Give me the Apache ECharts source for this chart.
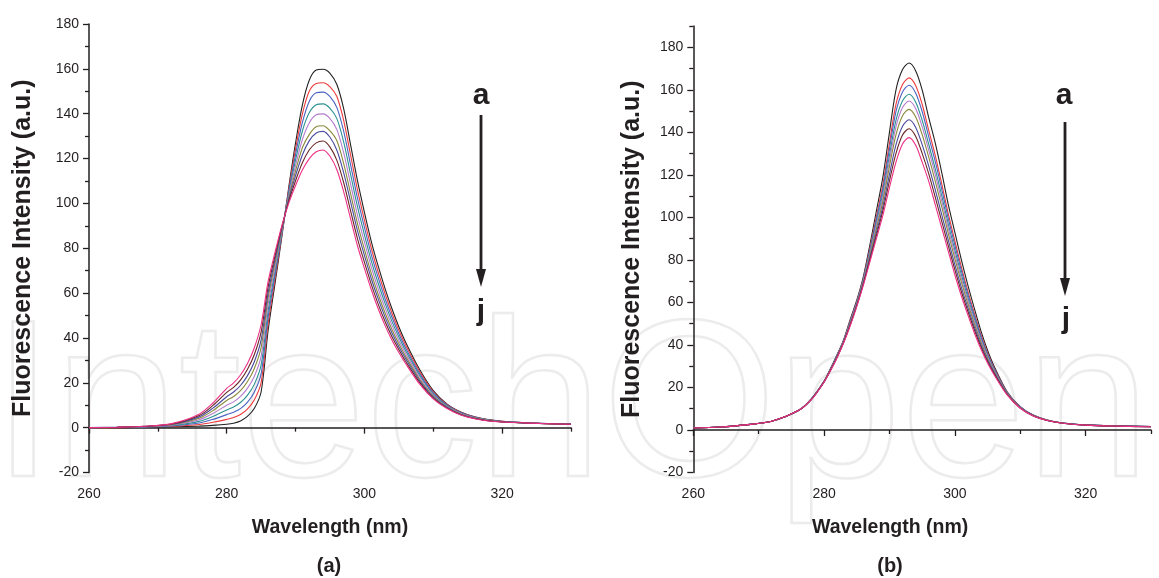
<!DOCTYPE html>
<html><head><meta charset="utf-8">
<script src="https://cdn.jsdelivr.net/npm/echarts@6/dist/echarts.min.js"></script>
<style>html,body{margin:0;padding:0;background:#fff}#c{width:1159px;height:578px}</style>
</head><body><div id="c"></div>
<script>
// ---- data ----
const wavelengths = [260,264,268,272,276,278,280,281,282,283,284,285,286,287,288,289,290,291,292,293,294,295,296,297,298,299,300,301,302,303,304,305,306,308,310,312,314,316,318,320,324,330];

// panel (a)
const a_a = [0,0,0.2,0.4,0.7,1.0,1.5,2,3,5,8.5,16,43,64,85,107,127,144,155,159.5,159.8,158,153,142,126,110,96,83,72,62,53,45,38,26,16.5,10.5,7,4.8,3.6,2.8,2.1,1.6];
const a_b = [0,0,0.3,0.6,1.4,2.4,3.7,4.5,5.9,8.3,12.3,20.2,46.1,66,85.7,106,124.3,140,150.1,153.5,153.8,152,147.7,136.8,121.4,105.9,92.5,80,69.3,59.7,51,43.4,36.7,25.1,16,10.2,6.8,4.7,3.5,2.8,2.1,1.6];
const a_c = [0,0.1,0.3,0.8,2.1,3.7,5.8,6.9,8.5,11.3,15.8,24.1,48.9,67.8,86.4,105.1,121.9,136.2,145.6,149.3,149.6,147.6,142.7,132,117.1,102.2,89.3,77.2,66.9,57.5,49.2,41.9,35.4,24.2,15.5,10,6.6,4.6,3.4,2.7,2.1,1.6];
const a_d = [0,0.1,0.4,1.0,2.8,5.0,7.9,9.2,11.2,14.4,19.3,28,51.8,69.6,87,104.2,119.4,132.4,140.5,144,144.4,142.4,137.8,127.2,112.8,98.4,86,74.4,64.4,55.4,47.4,40.4,34.2,23.4,15,9.7,6.4,4.5,3.4,2.7,2.1,1.6];
const a_e = [0,0.1,0.4,1.1,3.5,6.3,10,11.5,13.9,17.5,22.8,31.9,54.7,71.4,87.7,103.3,116.9,128.6,136,139.5,139.9,137.8,132.9,122.4,108.5,94.6,82.8,71.6,61.9,53.3,45.6,38.9,33,22.6,14.5,9.4,6.3,4.4,3.3,2.6,2.1,1.5];
const a_f = [0,0.1,0.5,1.3,4.2,7.6,12.1,13.9,16.5,20.5,26.3,35.8,57.5,73.2,88.3,102.4,114.5,124.9,130.8,134.2,134.6,132.3,127.9,117.6,104.2,90.9,79.5,68.8,59.5,51.1,43.8,37.4,31.7,21.7,14.1,9.2,6.1,4.3,3.2,2.6,2.0,1.5];
const a_g = [0,0.2,0.5,1.5,4.8,8.7,13.8,15.9,18.8,23.1,29.3,39.1,59.9,74.8,88.9,101.6,112.4,121.7,128,131.4,132.1,129.5,123.7,113.5,100.6,87.7,76.8,66.4,57.4,49.3,42.2,36.1,30.7,21,13.6,9,5.9,4.2,3.1,2.6,2.0,1.5];
const a_h = [0,0.2,0.6,1.6,5.4,9.9,15.7,18,21.2,25.9,32.5,42.7,62.6,76.5,89.5,100.8,110.1,118.2,123.9,127,127.8,125.1,119.2,109.1,96.6,84.2,73.8,63.9,55.1,47.3,40.5,34.8,29.5,20.2,13.2,8.7,5.8,4.1,3.1,2.5,2.0,1.5];
const a_j = [0,0.2,0.6,1.8,6,11,17.5,20,23.5,28.5,35.5,46,65,78,90,100,108,115,120,123,123.8,121,115,105,93,81,71,61.5,53,45.5,39,33.5,28.5,19.5,12.8,8.5,5.6,4,3,2.5,2,1.5];

// panel (b)
const b_a = [0.9,1.4,2.4,4.1,9.0,14.5,23,29,35.5,42.5,52,61,72,87,103,119,140,160,169.5,172.6,169,160,147,135,121,106,93,80,68,57,46.5,37.5,30,18,11,7,4.8,3.5,2.8,2.4,2.0,1.6];
const b_b = [0.9,1.4,2.4,4.1,9.0,14.4,22.9,28.8,35.2,42.2,51.4,60.4,71.2,85.4,100.3,115.4,134.8,153.2,162.5,165.6,162,153.2,141,129.2,115.8,101.6,89,76.6,65.2,54.7,44.8,36.3,29.2,17.7,10.8,6.9,4.8,3.5,2.8,2.4,2.0,1.6];
const b_c = [0.9,1.4,2.4,4.1,9.0,14.4,22.9,28.7,35.1,42.1,51.1,60.1,70.8,84.6,98.9,113.6,132.2,149.8,159,162.1,158.5,149.8,138,126.3,113.2,99.4,87,74.9,63.8,53.6,44,35.7,28.8,17.6,10.8,6.9,4.7,3.5,2.8,2.4,2.0,1.6];
const b_d = [0.9,1.4,2.4,4.1,9.0,14.3,22.8,28.6,34.9,41.9,50.7,59.7,70.3,83.6,97.3,111.4,129.1,145.7,154.8,157.9,154.3,145.7,134.4,122.8,110.1,96.8,84.6,72.9,62.1,52.2,42.9,35,28.3,17.4,10.7,6.8,4.7,3.5,2.8,2.4,2.0,1.6];
const b_e = [0.9,1.4,2.4,4.1,9.0,14.3,22.8,28.5,34.7,41.7,50.5,59.5,70,82.9,96.1,109.8,126.7,142.7,151.7,154.7,151.2,142.7,131.7,120.2,107.7,94.8,82.8,71.3,60.9,51.1,42.2,34.4,28,17.2,10.6,6.8,4.7,3.4,2.7,2.3,1.9,1.5];
const b_f = [0.9,1.4,2.4,4.1,9.0,14.2,22.7,28.4,34.6,41.6,50.1,59.1,69.5,82,94.6,107.8,123.9,138.9,147.8,150.8,147.3,138.9,128.4,117,104.9,92.4,80.6,69.5,59.3,49.9,41.2,33.8,27.5,17.1,10.5,6.8,4.7,3.4,2.7,2.3,1.9,1.5];
const b_g = [0.9,1.4,2.4,4.1,9.0,14.1,22.6,28.2,34.4,41.4,49.7,58.7,69,80.9,92.8,105.3,120.2,134.2,142.9,145.9,142.4,134.2,124.2,113,101.2,89.3,77.8,67.1,57.4,48.3,40,32.9,27,16.9,10.4,6.7,4.6,3.4,2.7,2.3,1.9,1.5];
const b_h = [0.9,1.4,2.4,4.1,9.0,14.1,22.6,28.1,34.2,41.2,49.4,58.4,68.5,80,91.4,103.2,117.1,130.1,138.7,141.7,138.2,130.1,120.6,109.5,98.1,86.6,75.4,65,55.7,46.9,39,32.2,26.5,16.7,10.3,6.6,4.6,3.4,2.7,2.3,1.9,1.5];
const b_j = [0.9,1.4,2.4,4.1,9.0,14,22.5,28,34,41,49,58,68,79,90,101,114,126,134.5,137.5,134,126,117,106,95,84,73,63,54,45.5,38,31.5,26,16.5,10.2,6.6,4.6,3.4,2.7,2.3,1.9,1.5];

const curveNames = ['a','b','c','d','e','f','g','h','j'];
const curveColors = ['#222222','#ef3b3b','#4a63c2','#2d9191','#b57bcc','#8a8a3a','#4a4a9e','#6a2626','#ee2f86'];
const panelA = [a_a,a_b,a_c,a_d,a_e,a_f,a_g,a_h,a_j];
const panelB = [b_a,b_b,b_c,b_d,b_e,b_f,b_g,b_h,b_j];

const xMajor = [260,280,300,320];
const xMinor = [270,290,310,330];
const yMajor = [-20,0,20,40,60,80,100,120,140,160,180];
const yMinorA = [-10,10,30,50,70,90,110,130,150,170];
const yMinorB = [-10,10,30,50,70,90,110,130,150,170,190];

// ---- chart ----
const FONT = '"Liberation Sans", Arial, sans-serif';
const TXT = '#231f20';
const chart = echarts.init(document.getElementById('c'), null, {renderer:'canvas'});

const grids = [
  {left:89, right:588, top:24, bottom:105.5},
  {left:89, right:588, top:24, bottom:105.5},
  {left:693.3, right:8, top:26, bottom:105.5},
  {left:693.3, right:8, top:26, bottom:105.5}
];

function mainX(gi, shift){
  return {type:'value', gridIndex:gi, min:260, max:330, interval:10,
    axisLine:{show:true, lineStyle:{color:'#231f20', width:1.5}},
    axisTick:{show:true, length:6, customValues:xMajor, lineStyle:{color:'#231f20', width:1.3}},
    axisLabel:{customValues:xMajor, color:TXT, fontFamily:FONT, fontSize:14, margin:15},
    splitLine:{show:false},
    name:'Wavelength (nm)', nameLocation:'middle', nameGap:45,
    nameTextStyle:{fontFamily:FONT, fontWeight:'bold', fontSize:19.5, color:TXT,
      padding: shift > 0 ? [0, shift, 0, 0] : [0, 0, 0, -shift]}};
}
function minorX(gi){
  return {type:'value', gridIndex:gi, min:260, max:330, interval:10,
    axisLine:{show:false}, axisLabel:{show:false}, splitLine:{show:false},
    axisTick:{show:true, length:4, customValues:xMinor, lineStyle:{color:'#231f20', width:1.3}}};
}
function mainY(gi, max, gap){
  return {type:'value', gridIndex:gi, min:-20, max:max, interval:10,
    axisLine:{show:true, lineStyle:{color:'#231f20', width:1.5}},
    axisTick:{show:true, length:6, customValues:yMajor, lineStyle:{color:'#231f20', width:1.3}},
    axisLabel:{customValues:yMajor, color:TXT, fontFamily:FONT, fontSize:14, margin:10},
    splitLine:{show:false},
    name:'Fluorescence Intensity (a.u.)', nameLocation:'middle', nameGap:gap, nameRotate:90,
    nameTextStyle:{fontFamily:FONT, fontWeight:'bold', fontSize:25, color:TXT}};
}
function minorY(gi, max, vals){
  return {type:'value', gridIndex:gi, min:-20, max:max, interval:10,
    axisLine:{show:false}, axisLabel:{show:false}, splitLine:{show:false},
    axisTick:{show:true, length:4, customValues:vals, lineStyle:{color:'#231f20', width:1.3}}};
}

const series = [];
function addPanel(arrs, axisIdx){
  arrs.forEach((arr, k) => {
    series.push({type:'line', name:curveNames[k], xAxisIndex:axisIdx, yAxisIndex:axisIdx,
      data: wavelengths.map((w,i)=>[w, arr[i]]),
      showSymbol:false, smooth:0.3, silent:true,
      lineStyle:{color:curveColors[k], width:1.1}, itemStyle:{color:curveColors[k]}});
  });
}
addPanel(panelA, 0);
addPanel(panelB, 2);

function arrow(x, y1, y2){
  return [
    {type:'line', shape:{x1:x, y1:y1, x2:x, y2:y2-14}, style:{stroke:'#231f20', lineWidth:2.8}, silent:true, z:100},
    {type:'polygon', shape:{points:[[x-5,y2-18],[x+5,y2-18],[x,y2]]}, style:{fill:'#231f20'}, silent:true, z:100}
  ];
}
const letterStyle = {font:'bold 30px "Liberation Sans", Arial, sans-serif', fill:'#231f20', align:'center', verticalAlign:'middle'};

const option = {
  animation:false,
  backgroundColor:'#ffffff',
  grid: grids,
  xAxis:[mainX(0, 0), minorX(1), mainX(2, 64), minorX(3)],
  yAxis:[mainY(0,180,53), minorY(1,180,yMinorA), mainY(2,190,49), minorY(3,190,yMinorB)],
  series: series,
  graphic:[
    {type:'text', x:-8, y:414, z:-10, silent:true,
     style:{text:'IntechOpen', font:'224px "Liberation Sans", Arial, sans-serif', fill:'rgba(0,0,0,0)', stroke:'#ececec', lineWidth:2.5, verticalAlign:'middle', align:'left'}},
    {type:'text', x:481, y:96, style:Object.assign({text:'a'}, letterStyle), z:100},
    {type:'text', x:481, y:312, style:Object.assign({text:'j'}, letterStyle), z:100},
    ...arrow(481, 115, 287),
    {type:'text', x:1064, y:96, style:Object.assign({text:'a'}, letterStyle), z:100},
    {type:'text', x:1066, y:320, style:Object.assign({text:'j'}, letterStyle), z:100},
    ...arrow(1065, 122, 296),
    {type:'text', x:329, y:566, style:{text:'(a)', font:'bold 20px "Liberation Sans", Arial, sans-serif', fill:'#231f20', align:'center', verticalAlign:'middle'}},
    {type:'text', x:890, y:566, style:{text:'(b)', font:'bold 20px "Liberation Sans", Arial, sans-serif', fill:'#231f20', align:'center', verticalAlign:'middle'}}
  ]
};
chart.setOption(option);
</script>
</body></html>
